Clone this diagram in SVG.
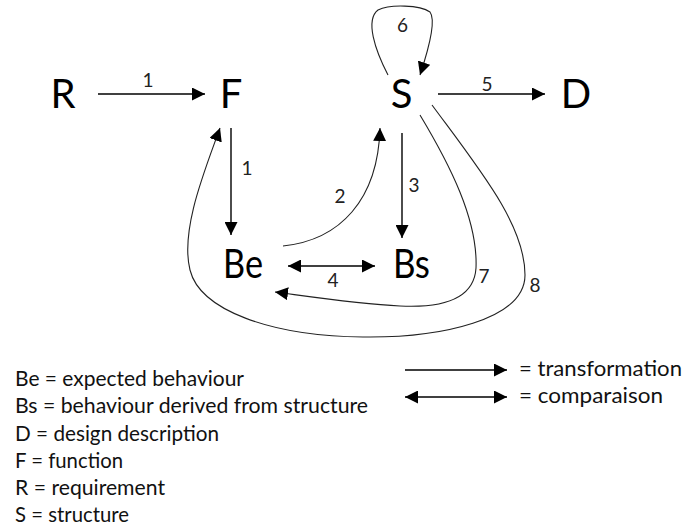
<svg xmlns="http://www.w3.org/2000/svg" width="686" height="529" viewBox="0 0 686 529">
<style>
.node{font-family:Lato,"Open Sans","Liberation Sans",sans-serif;font-size:40px;fill:#000;text-anchor:middle}
.num{font-family:Lato,"Open Sans","Liberation Sans",sans-serif;font-size:19px;fill:#222;text-anchor:middle}
.leg{font-family:Lato,"Open Sans","Liberation Sans",sans-serif;font-size:22px;fill:#111}
.arr{fill:none;stroke:#000;stroke-width:1.4}
.crv{fill:none;stroke:#222;stroke-width:1.1}
</style>
<defs>
<marker id="ah" viewBox="0 0 13 13" refX="13" refY="6.5" markerWidth="13" markerHeight="13" markerUnits="userSpaceOnUse" orient="auto-start-reverse">
<path d="M0,0 L13,6.5 L0,13 Z" fill="#000"/>
</marker>
</defs>
<rect width="686" height="529" fill="#fff"/>
<g id="node-R"><text class="node" x="63" y="108">R</text></g>
<g id="node-F"><text class="node" x="231" y="108">F</text></g>
<g id="node-S"><text class="node" x="401.5" y="108">S</text></g>
<g id="node-D"><text class="node" x="576" y="108">D</text></g>
<g id="node-Be"><text class="node" x="243" y="278" textLength="40" lengthAdjust="spacingAndGlyphs">Be</text></g>
<g id="node-Bs"><text class="node" x="411.5" y="278" textLength="37" lengthAdjust="spacingAndGlyphs">Bs</text></g>
<g id="connectors">
<line class="arr" x1="98" y1="94" x2="205" y2="94" marker-end="url(#ah)"/>
<line class="arr" x1="438" y1="94" x2="545" y2="94" marker-end="url(#ah)"/>
<line class="arr" x1="231" y1="128" x2="231" y2="235" marker-end="url(#ah)"/>
<line class="arr" x1="402" y1="133" x2="402" y2="238" marker-end="url(#ah)"/>
<line class="arr" x1="288" y1="266" x2="375" y2="266" marker-start="url(#ah)" marker-end="url(#ah)"/>
<path class="crv" d="M283,246 C340,240 378,200 380,128" marker-end="url(#ah)"/>
<path class="crv" d="M388,75 C375,50 365,20 378,10 C390,4 420,5 430,12 C436,20 430,45 420,75" marker-end="url(#ah)"/>
<path class="crv" d="M420,115 C450,165 478,220 476,268 C474,300 440,308 400,306 C360,304 320,298 275,292" marker-end="url(#ah)"/>
<path class="crv" d="M432,105 C480,170 525,225 525,275 C525,320 440,338 363,337 C270,336 200,310 190,270 C180,230 205,170 220,128" marker-end="url(#ah)"/>
<text class="num" x="148" y="87">1</text>
<text class="num" x="487" y="91">5</text>
<text class="num" x="402.5" y="32">6</text>
<text class="num" x="247" y="175">1</text>
<text class="num" x="340" y="203">2</text>
<text class="num" x="414" y="192">3</text>
<text class="num" x="333" y="287">4</text>
<text class="num" x="484" y="283">7</text>
<text class="num" x="535" y="292">8</text>
</g>
<g id="legend">
<text class="leg" x="15" y="386" textLength="229" lengthAdjust="spacingAndGlyphs">Be = expected behaviour</text>
<text class="leg" x="15" y="413" textLength="353" lengthAdjust="spacingAndGlyphs">Bs = behaviour derived from structure</text>
<text class="leg" x="15" y="441" textLength="204" lengthAdjust="spacingAndGlyphs">D = design description</text>
<text class="leg" x="15" y="468" textLength="108" lengthAdjust="spacingAndGlyphs">F = function</text>
<text class="leg" x="15" y="495" textLength="150" lengthAdjust="spacingAndGlyphs">R = requirement</text>
<text class="leg" x="15" y="522" textLength="114" lengthAdjust="spacingAndGlyphs">S = structure</text>
<line class="arr" x1="405" y1="370" x2="507" y2="370" marker-end="url(#ah)"/>
<line class="arr" x1="405" y1="397" x2="507" y2="397" marker-start="url(#ah)" marker-end="url(#ah)"/>
<text class="leg" x="519" y="376" textLength="163" lengthAdjust="spacingAndGlyphs">= transformation</text>
<text class="leg" x="519" y="403" textLength="144" lengthAdjust="spacingAndGlyphs">= comparaison</text>
</g>
</svg>
